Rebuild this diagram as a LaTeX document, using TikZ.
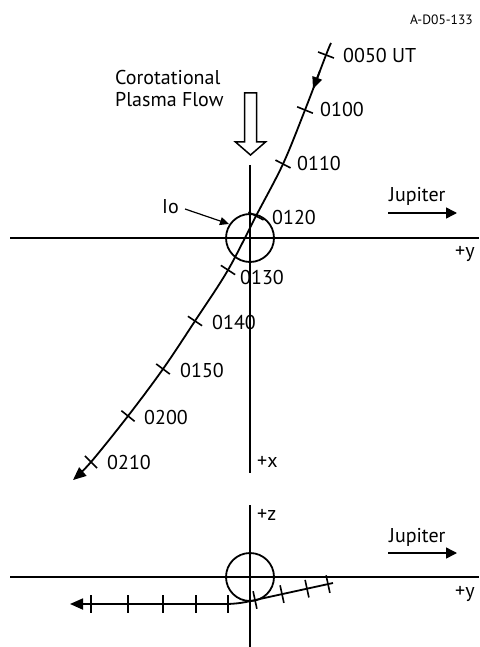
\documentclass[tikz,border=0pt]{standalone}
\usepackage{fontspec}
\setmainfont{PT Sans}
\usetikzlibrary{arrows.meta,calc}
\begin{document}
\begin{tikzpicture}[x=1pt,y=-1pt,
  ax/.style={line width=1.8pt},
  traj/.style={line width=1.8pt},
  tk/.style={line width=1.6pt},
  lbl/.style={anchor=base west,inner sep=0pt,font=\fontsize{20}{22}\selectfont},
  endtip/.style={-{Triangle[length=13pt,width=11pt]}},
  jtip/.style={line width=1.5pt,-{Triangle[length=11pt,width=11pt]}},
]
\useasboundingbox (0,0) rectangle (479,647);

% ---------- top panel ----------
\draw[ax] (10,238) -- (479,238);
\draw[ax] (250,165) -- (250,473);
\node[draw,circle,line width=1.8pt,minimum size=48pt,inner sep=0pt] (io) at (250,238) {};

% hollow flow arrow
\draw[line width=1.5pt] (244.5,93) -- (256.5,93) -- (256.5,142) -- (265.5,142) -- (250.5,155) -- (235.5,142) -- (244.5,142) -- cycle;
\node[lbl,align=left,anchor=base west] (flow) at (115,107) {Corotational\\Plasma Flow};

% trajectory
\coordinate (s) at (331,43);
\coordinate (t0) at (326,55);
\coordinate (t1) at (305,110);
\coordinate (t2) at (283,164);
\coordinate (t3) at (256,216);
\coordinate (t4) at (228,270);
\coordinate (t5) at (195,321);
\coordinate (t6) at (163,369);
\coordinate (t7) at (128,416);
\coordinate (t8) at (91,462);
\coordinate (e) at (73,480);
\draw[traj,endtip] plot[smooth,tension=0.55] coordinates {(s) (t0) (t1) (t2) (t3) (t4) (t5) (t6) (t7) (t8) (e)};
\draw[traj,-{Triangle[length=12pt,width=10pt]}] ($(t0)!0.3!(t1)$) -- ($(t0)!0.62!(t1)$);
\foreach \a/\b in {t0/t1,t1/t2,t2/t3,t3/t4,t4/t5,t5/t6,t6/t7,t7/t8,t8/e}
  \draw[tk] ($(\a)!8.5pt!90:(\b)$) -- ($(\a)!8.5pt!-90:(\b)$);

\node[lbl] (l0) at (343,63) {0050 UT};
\node[lbl] (l1) at (320,117) {0100};
\node[lbl] (l2) at (297,171) {0110};
\node[lbl] (l3) at (272,224) {0120};
\node[lbl] (l4) at (240,284) {0130};
\node[lbl] (l5) at (212,329) {0140};
\node[lbl] (l6) at (180,377) {0150};
\node[lbl] (l7) at (144,424) {0200};
\node[lbl] (l8) at (107,469) {0210};

\node[lbl] (px) at (257,467) {+x};
\node[lbl] (py1) at (455,257) {+y};
\node[lbl] (jup1) at (389,201) {Jupiter};
\coordinate (ja1) at (388,213);
\coordinate (jb1) at (457,213);
\draw[jtip] (ja1) -- (jb1);

\node[lbl] (iolbl) at (162,213) {Io};
\draw[line width=1.2pt,-{Triangle[length=9pt,width=8pt]}] (185,209) -- (229,224);

\node[anchor=base east,inner sep=0pt,font=\fontsize{13.5}{15}\selectfont] (id) at (473,25) {A-D05-133};

% ---------- bottom panel ----------
\draw[ax] (10,577) -- (479,577);
\draw[ax] (250,505) -- (250,647);
\node[draw,circle,line width=1.8pt,minimum size=48pt,inner sep=0pt] (io2) at (250,577) {};
\node[lbl] (pz) at (257,520) {+z};
\node[lbl] (py2) at (455,597) {+y};
\node[lbl] (jup2) at (389,542) {Jupiter};
\coordinate (ja2) at (388,553);
\coordinate (jb2) at (457,553);
\draw[jtip] (ja2) -- (jb2);

\draw[traj,endtip] (333,583) -- (262,598.5) .. controls (250,601.2) and (240,604) .. (225,604) -- (70,604);
\foreach \x in {91,128,163,196,228}
  \draw[tk] (\x,595) -- (\x,613);
\foreach \x/\y in {255/600,282/594.1,307/588.7,328/584.1}
  \draw[tk] (\x-1.9,\y-8.8) -- (\x+1.9,\y+8.8);
\end{tikzpicture}
\end{document}
